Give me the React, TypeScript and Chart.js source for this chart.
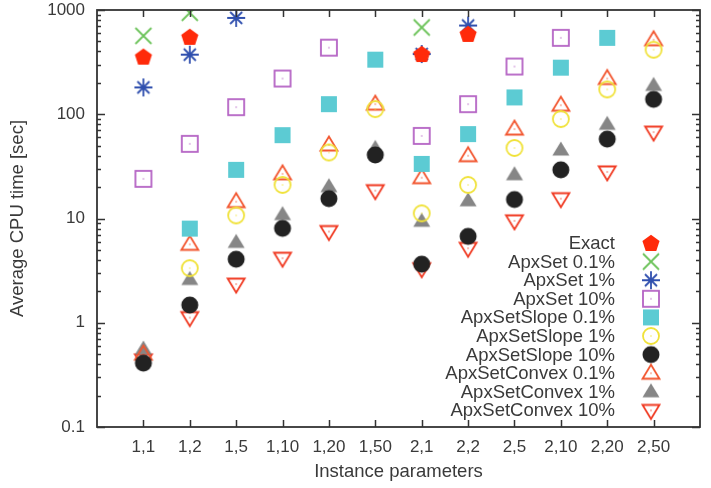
import React, { useEffect, useRef } from 'react';
import { Chart, registerables } from 'chart.js';

Chart.register(...registerables);

// ---------- data ----------
const CATEGORIES = ['1,1', '1,2', '1,5', '1,10', '1,20', '1,50', '2,1', '2,2', '2,5', '2,10', '2,20', '2,50'];
const Y_TICKS = [0.1, 1, 10, 100, 1000];
const Y_TICK_LABELS = ['0.1', '1', '10', '100', '1000'];

const EXACT = [357, 553, null, null, null, null, 378, 590, null, null, null, null];
const APXSET_01 = [565, 940, null, null, null, null, 680, null, null, null, null, null];
const APXSET_1 = [181, 373, 840, null, null, null, 378, 710, null, null, null, null];
const APXSET_10 = [24, 52, 117, 220, 435, null, 62, 125, 287, 541, null, null];
const SLOPE_01 = [null, 8.0, 29.3, 63, 125, 334, 33.4, 64.5, 145, 280, 541, null];
const SLOPE_1 = [null, 3.34, 10.7, 21, 43, 112, 11.2, 21, 47.5, 90, 173, 416];
const SLOPE_10 = [0.41, 1.48, 4.07, 8.05, 15.5, 40.7, 3.65, 6.74, 15.2, 29.3, 57.8, 139];
const CONVEX_01 = [0.5, 5.65, 14.5, 26.8, 50.7, 125, 24.6, 40, 72, 122, 220, 518];
const CONVEX_1 = [0.56, 2.6, 5.9, 10.9, 20.2, 47, 9.4, 14.8, 26.3, 45.4, 80, 189];
const CONVEX_10 = [0.44, 1.12, 2.35, 4.16, 7.5, 18.5, 3.3, 5.18, 9.5, 15.5, 28, 67.4];

const SERIES_NAMES = [
  'Exact',
  'ApxSet 0.1%',
  'ApxSet 1%',
  'ApxSet 10%',
  'ApxSetSlope 0.1%',
  'ApxSetSlope 1%',
  'ApxSetSlope 10%',
  'ApxSetConvex 0.1%',
  'ApxSetConvex 1%',
  'ApxSetConvex 10%',
];
const SERIES_VALUES = [EXACT, APXSET_01, APXSET_1, APXSET_10, SLOPE_01, SLOPE_1, SLOPE_10, CONVEX_01, CONVEX_1, CONVEX_10];
const SERIES_MARKERS = ['pentagon', 'x', 'star', 'squareOpen', 'squareFilled', 'circleOpen', 'circleFilled', 'triUpOpen', 'triUpFilled', 'triDownOpen'];
const SERIES_COLORS = ['#ff2a0a', '#6cc35a', '#2f4fae', '#b462c4', '#5ccbd3', '#f0e23a', '#222222', '#f2552e', '#868686', '#f03a22'];

const FONT_FAMILY = '"Liberation Sans", Arial, Helvetica, sans-serif';
const TEXT_COLOR = '#3a3a3a';

// ---------- markers ----------
function makeMarker(kind: string, color: string): HTMLCanvasElement {
  const size = 26;
  const c = document.createElement('canvas');
  c.width = size;
  c.height = size;
  const ctx = c.getContext('2d') as CanvasRenderingContext2D;
  ctx.translate(size / 2, size / 2);
  ctx.strokeStyle = color;
  ctx.fillStyle = color;
  ctx.lineWidth = 1.8;
  ctx.lineJoin = 'miter';
  const dot = () => {
    ctx.fillRect(-0.6, -0.6, 1.2, 1.2);
  };
  const tri = (down: boolean) => {
    const s = down ? -1 : 1;
    ctx.beginPath();
    ctx.moveTo(0, -8.5 * s);
    ctx.lineTo(8.5, 5.5 * s);
    ctx.lineTo(-8.5, 5.5 * s);
    ctx.closePath();
  };
  switch (kind) {
    case 'pentagon': {
      ctx.beginPath();
      for (let i = 0; i < 5; i++) {
        const a = -Math.PI / 2 + (i * 2 * Math.PI) / 5;
        ctx.lineTo(9 * Math.cos(a), 9 * Math.sin(a) + 0.8);
      }
      ctx.closePath();
      ctx.fill();
      break;
    }
    case 'x': {
      ctx.beginPath();
      ctx.moveTo(-8, -8);
      ctx.lineTo(8, 8);
      ctx.moveTo(-8, 8);
      ctx.lineTo(8, -8);
      ctx.stroke();
      break;
    }
    case 'star': {
      ctx.beginPath();
      for (let i = 0; i < 4; i++) {
        const a = (i * Math.PI) / 4;
        const r = i % 2 === 0 ? 9 : 8.5;
        ctx.moveTo(-r * Math.cos(a), -r * Math.sin(a));
        ctx.lineTo(r * Math.cos(a), r * Math.sin(a));
      }
      ctx.stroke();
      break;
    }
    case 'squareOpen':
      ctx.strokeRect(-8, -8, 16, 16);
      dot();
      break;
    case 'squareFilled':
      ctx.fillRect(-8, -8, 16, 16);
      break;
    case 'circleOpen':
      ctx.beginPath();
      ctx.arc(0, 0, 8, 0, Math.PI * 2);
      ctx.stroke();
      dot();
      break;
    case 'circleFilled':
      ctx.beginPath();
      ctx.arc(0, 0, 8.5, 0, Math.PI * 2);
      ctx.fill();
      break;
    case 'triUpOpen':
      tri(false);
      ctx.stroke();
      dot();
      break;
    case 'triUpFilled':
      tri(false);
      ctx.fill();
      break;
    case 'triDownOpen':
      tri(true);
      ctx.stroke();
      dot();
      break;
  }
  return c;
}

export default function App() {
  const ref = useRef<HTMLCanvasElement | null>(null);

  useEffect(() => {
    const canvas = ref.current;
    if (!canvas) return;
    const markers = SERIES_MARKERS.map((k, i) => makeMarker(k, SERIES_COLORS[i]));

    const datasets = SERIES_NAMES.map((name, i) => ({
      label: name,
      data: SERIES_VALUES[i]
        .map((v, j) => (v == null ? null : { x: j + 1, y: v }))
        .filter((p) => p !== null) as { x: number; y: number }[],
      pointStyle: markers[i] as any,
      pointRadius: 9,
      showLine: false,
    }));

    const framePlugin = {
      id: 'frame',
      afterDraw(chart: any) {
        const { ctx, chartArea } = chart;
        const { left, right, top, bottom } = chartArea;
        const xs = chart.scales.x;
        const ys = chart.scales.y;
        ctx.save();
        ctx.strokeStyle = '#333333';
        ctx.lineWidth = 1.5;
        ctx.beginPath();
        CATEGORIES.forEach((_, i) => {
          const px = Math.round(xs.getPixelForValue(i + 1)) + 0.5;
          ctx.moveTo(px, bottom);
          ctx.lineTo(px, bottom - 7);
          ctx.moveTo(px, top);
          ctx.lineTo(px, top + 7);
        });
        for (let e = -1; e <= 3; e++) {
          const base = Math.pow(10, e);
          for (let m = 1; m <= 9; m++) {
            const v = base * m;
            if (v > 1000 + 1e-9) continue;
            const py = Math.round(ys.getPixelForValue(v)) + 0.5;
            const len = m === 1 ? 8 : 4;
            ctx.moveTo(left, py);
            ctx.lineTo(left + len, py);
            ctx.moveTo(right, py);
            ctx.lineTo(right - len, py);
          }
        }
        ctx.stroke();
        ctx.lineWidth = 1.8;
        ctx.strokeRect(left, top, right - left, bottom - top);
        ctx.restore();
      },
    };

    const legendPlugin = {
      id: 'insideLegend',
      afterDraw(chart: any) {
        const { ctx } = chart;
        ctx.save();
        ctx.font = `18.5px ${FONT_FAMILY}`;
        ctx.fillStyle = TEXT_COLOR;
        ctx.textAlign = 'right';
        ctx.textBaseline = 'middle';
        SERIES_NAMES.forEach((name, i) => {
          const y = 243 + i * 18.6;
          ctx.fillText(name, 615, y + 1);
          const mk = markers[i];
          ctx.drawImage(mk, 651 - mk.width / 2, y - mk.height / 2);
        });
        ctx.restore();
      },
    };

    const tickFont = { family: FONT_FAMILY, size: 17 };
    const titleFont = { family: FONT_FAMILY, size: 18.5 };

    const chart = new Chart(canvas, {
      type: 'scatter',
      data: { datasets },
      options: {
        animation: false,
        responsive: false,
        maintainAspectRatio: false,
        layout: { padding: { left: 0, right: 11, top: 8, bottom: 0 } },
        plugins: {
          legend: { display: false },
          tooltip: { enabled: false },
        },
        scales: {
          x: {
            type: 'linear',
            min: 0,
            max: 13,
            afterBuildTicks: (s: any) => {
              s.ticks = CATEGORIES.map((_, i) => ({ value: i + 1 }));
            },
            afterFit: (s: any) => {
              s.height = 61;
              s.paddingLeft = 0;
              s.paddingRight = 0;
            },
            ticks: {
              autoSkip: false,
              maxRotation: 0,
              minRotation: 0,
              padding: 10,
              color: TEXT_COLOR,
              font: tickFont,
              callback: (v: any) => CATEGORIES[Math.round(Number(v)) - 1] ?? '',
            },
            grid: { display: false, drawTicks: false },
            border: { display: false },
            title: {
              display: true,
              text: 'Instance parameters',
              color: TEXT_COLOR,
              font: titleFont,
              padding: { top: 0, bottom: 5 },
            },
          },
          y: {
            type: 'logarithmic',
            min: 0.1,
            max: 1000,
            afterBuildTicks: (s: any) => {
              s.ticks = Y_TICKS.map((v) => ({ value: v }));
            },
            afterFit: (s: any) => {
              s.width = 97;
              s.paddingTop = 0;
              s.paddingBottom = 0;
            },
            ticks: {
              autoSkip: false,
              padding: 12,
              color: TEXT_COLOR,
              font: tickFont,
              callback: (v: any) => {
                const idx = Y_TICKS.findIndex((t) => Math.abs(t - Number(v)) < 1e-9 * Math.max(1, t));
                return idx >= 0 ? Y_TICK_LABELS[idx] : '';
              },
            },
            grid: { display: false, drawTicks: false },
            border: { display: false },
            title: {
              display: true,
              text: 'Average CPU time [sec]',
              color: TEXT_COLOR,
              font: titleFont,
              padding: { top: 7, bottom: 0 },
            },
          },
        },
      },
      plugins: [framePlugin, legendPlugin],
    });

    return () => {
      chart.destroy();
    };
  }, []);

  return (
    <div style={{ position: 'absolute', left: 0, top: 0, width: 711, height: 488, background: '#ffffff' }}>
      <canvas ref={ref} width={711} height={488} style={{ display: 'block', width: 711, height: 488 }} />
    </div>
  );
}
